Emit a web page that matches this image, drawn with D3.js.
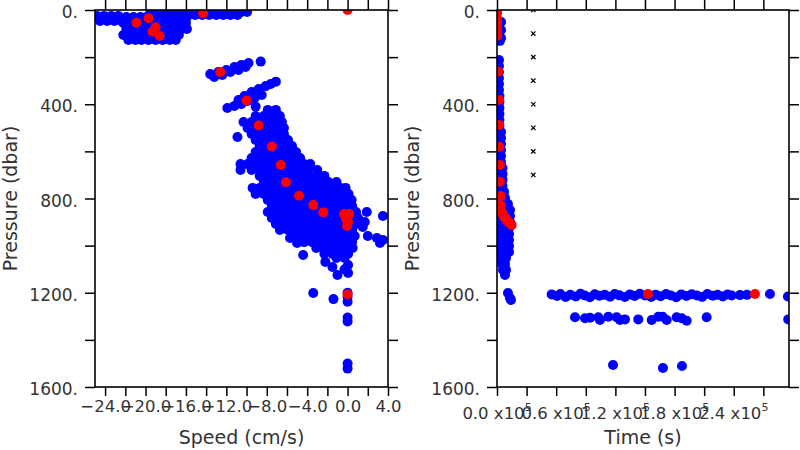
<!DOCTYPE html>
<html><head><meta charset="utf-8">
<script src="https://cdn.jsdelivr.net/npm/d3@7"></script>
<style>
body{margin:0;background:#fff}
svg{display:block}
</style>
</head><body>
<svg id="c" width="800" height="450"></svg>
<script>
// ---------- tick definitions ----------
const pressureTicks = [0,200,400,600,800,1000,1200,1400,1600];
const pressureLabels = [0,400,800,1200,1600];
const speedTicks = [-24,-22,-20,-18,-16,-14,-12,-10,-8,-6,-4,-2,0,2,4];
const speedLabels = [-24,-20,-16,-12,-8,-4,0,4];
const timeTicks = [0,30000,60000,90000,120000,150000,180000,210000,240000,270000];
const timeLabels = [0,60000,120000,180000,240000];
const timeLabelMantissa = ["0.0","0.6","1.2","1.8","2.4"];

// ---------- left panel: speed (cm/s) vs pressure (dbar) ----------
// blue rows: [pressure, [speeds...]]
const speedBlueRows = [
  [8,   [-19.5,-18.8,-18.1,-17.4,-16.7,-16.1,-15.4,-14.7,-14.0,-13.3,-12.6,-11.9,-11.2,-10.5]],
  [21,  [-15.8,-15.1,-14.4,-13.7,-13.0,-12.3,-11.6,-10.9]],
  [25,  [-24.8,-24.1,-23.4,-22.7]],
  [30,  [-21.9,-21.2,-20.5,-19.9,-19.2,-18.5,-17.8,-17.1,-16.4,-15.9]],
  [47,  [-24.5,-23.8,-23.1,-22.4]],
  [55,  [-22.2,-21.6,-20.9,-20.2,-19.5,-18.8,-18.1,-17.4,-16.7,-16.0]],
  [81,  [-21.9,-21.2,-20.5,-19.9,-19.2,-18.5,-17.8,-17.1,-16.4,-15.9]],
  [106, [-22.2,-21.6,-20.9,-20.2,-19.5,-18.8,-18.1,-17.4,-16.7]],
  [127, [-21.7,-21.0,-20.4,-19.7,-19.0,-18.3,-17.6,-17.0]],
  [424, [-7.9,-7.1]],
  [450, [-9.1,-8.3,-7.5,-6.7]],
  [475, [-10.3,-9.5,-8.7,-7.9,-7.1,-6.5]],
  [501, [-9.9,-9.1,-8.3,-7.5,-6.7,-6.3]],
  [526, [-9.5,-8.7,-7.9,-7.1,-6.3]],
  [552, [-9.1,-8.3,-7.5,-6.7,-5.9]],
  [577, [-8.7,-7.9,-7.1,-6.3,-5.5]],
  [603, [-9.1,-8.3,-7.5,-6.7,-5.9,-5.1]],
  [628, [-9.5,-8.7,-7.9,-7.1,-6.3,-5.5,-4.7]],
  [654, [-10.6,-9.9,-9.1,-8.3,-7.5,-6.7,-5.9,-5.1,-4.3,-3.7]],
  [679, [-10.6,-9.5,-8.7,-7.9,-7.1,-6.3,-5.5,-4.7,-3.9,-3.0]],
  [704, [-8.7,-7.9,-7.1,-6.3,-5.5,-4.7,-3.9,-3.1,-2.3]],
  [730, [-8.3,-7.5,-6.7,-5.9,-5.1,-4.3,-3.5,-2.7,-1.9,-1.1]],
  [755, [-9.4,-8.7,-7.9,-7.1,-6.3,-5.5,-4.7,-3.9,-3.1,-2.3,-1.5,-0.7,-0.2]],
  [781, [-9.1,-8.3,-7.5,-6.7,-5.9,-5.1,-4.3,-3.5,-2.7,-1.9,-1.1,-0.5,0.1]],
  [806, [-7.9,-7.1,-6.3,-5.5,-4.7,-3.9,-3.1,-2.3,-1.5,-0.7,0.05,0.4]],
  [832, [-7.5,-6.7,-5.9,-5.1,-4.3,-3.5,-2.7,-1.9,-1.1,-0.4,0.45]],
  [857, [-7.9,-7.1,-6.3,-5.5,-4.7,-3.9,-3.1,-2.3,-1.5,-0.7,0.05,0.84]],
  [883, [-7.5,-6.7,-5.9,-5.1,-4.3,-3.5,-2.7,-1.9,-1.1,-0.4,0.45,1.04]],
  [908, [-7.1,-6.3,-5.5,-4.7,-3.9,-3.1,-2.3,-1.5,-0.7,0.05,0.84]],
  [934, [-6.7,-5.9,-5.1,-4.3,-3.5,-2.7,-1.9,-1.1,-0.4,0.45]],
  [959, [-5.5,-4.7,-3.9,-3.1,-2.3,-1.5,-0.7,0.05,0.7]],
  [985, [-4.3,-3.5,-2.7,-1.9,-1.1,-0.4,0.45]],
  [1010,[-3.1,-2.3,-1.5,-0.7,0.05,0.5]],
  [1035,[-2.3,-1.5,-0.7,0.05]],
  [1052,[-1.1,-0.3]]
];
// blue single points: [speed, pressure]
const speedBluePoints = [
  [-9.95,8],
  [-13.6,272],[-12.8,263],[-12.0,255],[-11.2,242],[-10.5,233],[-9.8,225],
  [-13.2,284],[-12.4,276],[-11.6,263],[-10.8,255],[-10.1,242],[-8.6,219],
  [-10.8,382],[-10.2,365],[-9.5,348],[-8.8,335],[-8.1,323],[-7.6,314],
  [-11.9,416],[-11.2,407],[-10.5,399],[-9.9,386],[-9.2,373],[-8.5,361],
  [-9.1,410],[-7.1,304],[-10.9,539],
  [1.9,857],[3.5,874],[1.5,921],[1.7,900],[2.0,959],[2.9,968],[3.2,989],[3.5,976],
  [-5.7,968],[-5.0,989],[-4.4,1040],[-2.2,1069],[-1.5,1091],[-1.0,1125],
  [0.05,1082],[0.05,1116],[-0.3,1100],
  [-3.4,1201],[-1.4,1227],[0.0,1200],[0.0,1218],[0.0,1238],
  [0.0,1305],[0.0,1322],[0.0,1500],[0.0,1522]
];
// red points: [speed, pressure]
const speedRedPoints = [
  [-20.9,54],[-19.7,35],[-19.0,73],[-19.3,92],[-18.6,110],[-14.3,14],[0.0,0],
  [-12.6,263],[-10.0,384],[-8.8,490],[-7.5,579],[-6.6,658],[-6.1,731],[-4.8,788],
  [-3.4,828],[-2.4,859],[-0.35,866],[0.15,866],[-0.15,887],[0.05,900],[-0.05,917],
  [0.0,1207]
];

// ---------- right panel: time (s) vs pressure (dbar) ----------
// blue rows: [pressure, [times...]]
const timeBlueRows = [
  [51,[4100]],[85,[4100]],[119,[4100]],[131,[3000]],
  [212,[2000]],[238,[2000]],[263,[2000]],[289,[2000]],[314,[2000]],[340,[2000]],
  [365,[2500]],[390,[2500]],[416,[2500]],[441,[2500]],[467,[2500]],[492,[2500]],
  [518,[2000,4100]],[543,[2000,4100]],[569,[2000,4100]],[594,[2000,4100]],[620,[2000,4100]],[645,[2000,4100]],
  [671,[2000,5600]],[696,[2000,5600]],[721,[2000,5600]],[747,[2000,5600]],
  [772,[2500,7100]],[798,[2500,8100]],
  [823,[3000,8100,11100]],[849,[3000,8100,13200]],[874,[3000,8100,13200]],[900,[3000,8100,13200]],
  [925,[3000,8100,12200]],[951,[3000,8100,12200]],[976,[3000,8100,12200]],[1002,[3000,8100,12200]],
  [1027,[3000,8100,12200]],
  [1053,[4100,9100]],[1078,[5100,8100]],[1103,[6100,9100]],[1125,[8100]],
  [1201,[11100]],[1222,[13200]],[1231,[14200]]
];
// blue single points: [time, pressure]
const timeBluePoints = [
  [55400,1207],[60800,1214],[64200,1205],[69500,1218],[74300,1209],[79900,1216],[84700,1204],
  [88900,1212],[94200,1219],[99100,1206],[103800,1213],[109200,1209],[114600,1217],[119300,1205],
  [124100,1211],[129600,1218],[134800,1207],[139500,1214],[144700,1204],[149900,1212],[156200,1218],
  [160800,1208],[165900,1215],[171400,1205],[176200,1212],[181700,1219],[186800,1207],[192100,1214],
  [197300,1206],[202600,1212],[207900,1218],[213200,1205],[218700,1213],[223600,1209],[228900,1216],
  [233800,1207],[237900,1212],[246300,1210],[253400,1209],[276700,1205],[294900,1216],
  [79100,1304],[89200,1308],[94300,1306],[102700,1304],[104400,1316],[112800,1302],[121300,1304],
  [124700,1316],[129700,1313],[143200,1313],[156800,1316],[163500,1302],[167900,1302],[172000,1316],
  [182100,1304],[187200,1308],[192300,1319],[212500,1304],[295200,1313],
  [117600,1507],[168200,1519],[187500,1511]
];
// red points: [time, pressure]
const timeRedPoints = [
  [0,0],[0,14],[0,35],[0,54],[0,73],[0,92],[0,110],
  [1300,262],[2000,382],[2000,488],[2300,580],[3000,658],[3000,729],[3700,789],[3700,828],
  [4800,856],[6000,868],[7100,877],[8500,885],[9800,891],[11200,897],[12500,903],[14900,912],
  [153000,1205],[261500,1205]
];
// black cross markers
const markerTime = [36800,36800,36800,36800,36800,36800,36800,36800];
const markerPressure = [0,100,200,300,400,500,600,700];

// ---------- drawing ----------
const svg = d3.select("#c");
const FONT = "'DejaVu Sans', sans-serif";
const TXT = "#333";
const R = 5;

const yP = d3.scaleLinear().domain([0,1600]).range([10,387]);
const xS = d3.scaleLinear().domain([-25,4]).range([95,388]);
const xT = d3.scaleLinear().domain([0,296000]).range([497,789]);

const defs = svg.append("defs");
function clip(id, x) {
  const r = x.range(), yr = yP.range();
  defs.append("clipPath").attr("id", id).append("rect")
    .attr("x", r[0]).attr("y", yr[0]).attr("width", r[1]-r[0]).attr("height", yr[1]-yr[0]);
}
clip("clipL", xS); clip("clipR", xT);

function expandRows(rows) {
  const out = [];
  rows.forEach(([p, xs]) => xs.forEach(v => out.push([v, p])));
  return out;
}

function styleAxis(g, size) {
  g.select(".domain").remove();
  g.selectAll(".tick line").attr("stroke", "#000").attr("stroke-width", 1.5);
  g.selectAll("text").attr("font-family", FONT).attr("font-size", size).attr("fill", TXT);
}

function drawPanel(x, clipId, blue, red, xTickVals, xFmt) {
  const [x0, x1] = x.range();
  const [y0, y1] = yP.range();
  const fmtP = d => pressureLabels.includes(d) ? d + "." : "";

  const dots = svg.append("g").attr("clip-path", `url(#${clipId})`);
  dots.selectAll("circle.b").data(blue).join("circle").attr("class","b")
    .attr("cx", d => x(d[0])).attr("cy", d => yP(d[1])).attr("r", R).attr("fill", "#0000ff");
  dots.selectAll("circle.r").data(red).join("circle").attr("class","r")
    .attr("cx", d => x(d[0])).attr("cy", d => yP(d[1])).attr("r", R).attr("fill", "#ff0000");

  const gl = svg.append("g").attr("transform", `translate(${x0},0)`)
    .call(d3.axisLeft(yP).tickValues(pressureTicks).tickSize(10).tickPadding(7).tickFormat(fmtP));
  styleAxis(gl, 17);
  gl.selectAll("text").attr("dy", "0.45em");

  const gr = svg.append("g").attr("transform", `translate(${x1},0)`)
    .call(d3.axisRight(yP).tickValues(pressureTicks).tickSize(10).tickFormat(""));
  styleAxis(gr, 17);

  const gt = svg.append("g").attr("transform", `translate(0,${y0})`)
    .call(d3.axisTop(x).tickValues(xTickVals).tickSize(10).tickFormat(""));
  styleAxis(gt, 16);

  const gb = svg.append("g").attr("transform", `translate(0,${y1})`)
    .call(d3.axisBottom(x).tickValues(xTickVals).tickSize(9).tickPadding(4).tickFormat(xFmt));
  styleAxis(gb, 16.5);

  svg.append("rect").attr("x", x0).attr("y", y0).attr("width", x1-x0).attr("height", y1-y0)
    .attr("fill", "none").attr("stroke", "#000").attr("stroke-width", 1.6);

  svg.append("text").attr("transform", `translate(${x0-78},${(y0+y1)/2}) rotate(-90)`)
    .attr("text-anchor", "middle").attr("font-family", FONT).attr("font-size", 19).attr("fill", TXT)
    .text("Pressure (dbar)");
}

// Left panel
const fmtSpeed = d => speedLabels.includes(d) ? (d < 0 ? "\u2212" + Math.abs(d).toFixed(1) : d.toFixed(1)) : "";
drawPanel(xS, "clipL", expandRows(speedBlueRows).concat(speedBluePoints), speedRedPoints, speedTicks, fmtSpeed);
svg.append("text").attr("x", (xS.range()[0]+xS.range()[1])/2).attr("y", 444)
  .attr("text-anchor", "middle").attr("font-family", FONT).attr("font-size", 19).attr("fill", TXT)
  .text("Speed (cm/s)");

// Right panel
drawPanel(xT, "clipR", expandRows(timeBlueRows).concat(timeBluePoints), timeRedPoints, timeTicks, () => "");
const tl = svg.append("g");
timeLabels.forEach((d, i) => {
  const t = tl.append("text").attr("x", xT(d)).attr("y", 419).attr("text-anchor", "middle")
    .attr("font-family", FONT).attr("font-size", 16.5).attr("fill", TXT);
  t.append("tspan").text(timeLabelMantissa[i] + " x10");
  t.append("tspan").attr("dy", -8).attr("font-size", 11).text("5");
});
svg.append("text").attr("x", (xT.range()[0]+xT.range()[1])/2).attr("y", 444)
  .attr("text-anchor", "middle").attr("font-family", FONT).attr("font-size", 19).attr("fill", TXT)
  .text("Time (s)");

// cross markers
const markers = markerTime.map((t, i) => [t, markerPressure[i]]);
svg.append("g").attr("clip-path", "url(#clipR)").selectAll("path").data(markers).join("path")
  .attr("transform", d => `translate(${xT(d[0])},${yP(d[1])})`)
  .attr("d", d3.symbol().type(d3.symbolTimes).size(14))
  .attr("fill", "none").attr("stroke", "#000").attr("stroke-width", 1.2);
</script>
</body></html>
